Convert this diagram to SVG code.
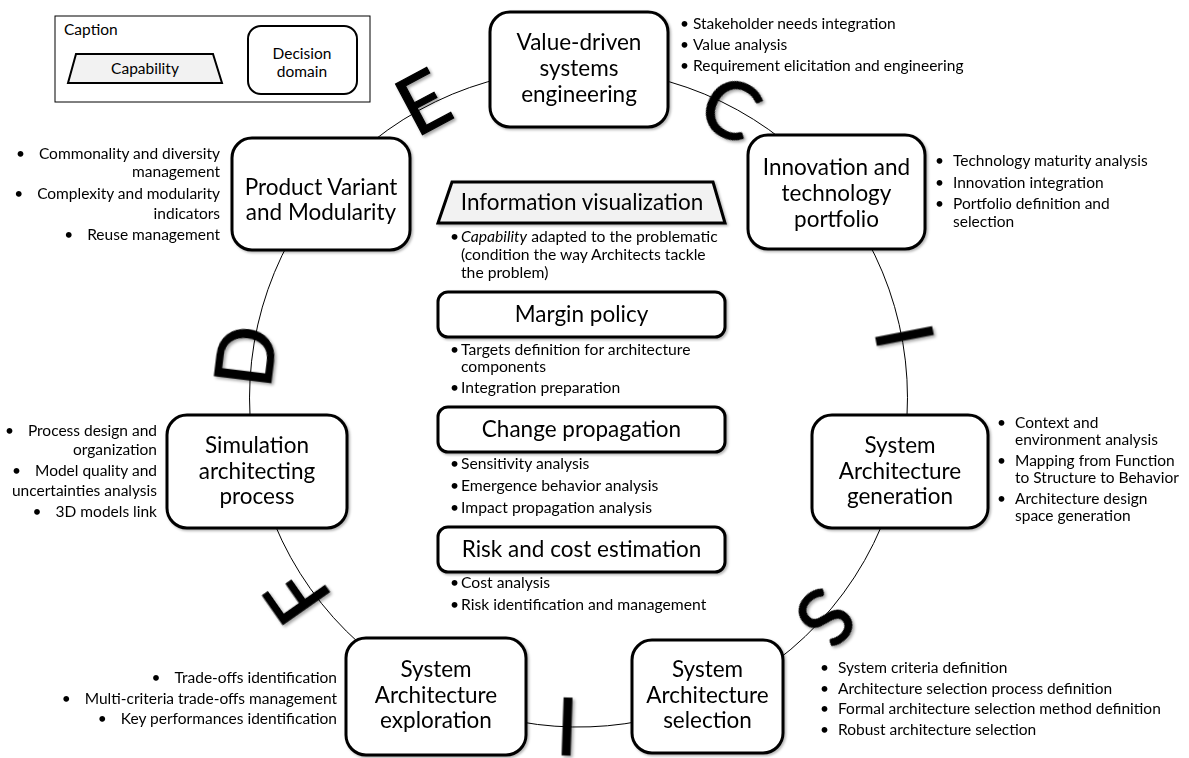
<svg xmlns="http://www.w3.org/2000/svg" width="1189" height="758" viewBox="0 0 1189 758">
<defs>
<filter id="sh" x="-30%" y="-30%" width="160%" height="160%"><feDropShadow dx="2" dy="2" stdDeviation="1.5" flood-color="#000" flood-opacity="0.35"/></filter>
<filter id="bsh" x="-10%" y="-10%" width="120%" height="120%"><feDropShadow dx="1.5" dy="1.5" stdDeviation="1.2" flood-color="#000" flood-opacity="0.3"/></filter>
</defs>
<style>
text{font-family:Lato,"Liberation Sans",sans-serif;fill:#000}
.node rect{fill:#fff;stroke:#000;stroke-width:3}
.cap{fill:#f2f2f2;stroke:#000;stroke-width:3}
.nt{font-size:22.5px;text-anchor:middle}
.ct{font-size:22.5px;text-anchor:middle}
.bt{font-size:15.5px}
.cb{font-size:15.7px}
.end{text-anchor:end}
.big{font-size:80px;font-weight:400;text-anchor:middle;stroke:#000;stroke-width:1.2}
.ring{fill:none;stroke:#000;stroke-width:1}
</style>
<rect width="1189" height="758" fill="#fff"/>

<g id="connectors" class="ring">
<path d="M578.5,69 A329,329 0 0 1 835.6,192.7"/>
<path d="M835.6,192.7 A329,329 0 0 1 899.3,470.9"/>
<path d="M899.3,470.9 A329,329 0 0 1 709.1,700"/>
<path d="M709.1,700 A329,329 0 0 1 436.9,695"/>
<path d="M436.9,695 A329,329 0 0 1 257.7,470.9"/>
<path d="M257.7,470.9 A329,329 0 0 1 320.9,193.4"/>
<path d="M320.9,193.4 A329,329 0 0 1 578.5,69"/>
</g>

<g id="letters" filter="url(#sh)">
<g transform="translate(423,102) rotate(-28)"><text class="big" y="28.5">E</text></g>
<g transform="translate(731,108) rotate(28)"><text class="big" y="28.5">C</text></g>
<g transform="translate(905,336) rotate(79)"><text class="big" y="28.5">I</text></g>
<g transform="translate(826,618) rotate(131.6)"><text class="big" y="28.5">S</text></g>
<g transform="translate(567,727) rotate(182)"><text class="big" y="28.5">I</text></g>
<g transform="translate(297,596) rotate(-125)"><text class="big" y="28.5">F</text></g>
<g transform="translate(245,356) rotate(-83)"><text class="big" y="28.5">D</text></g>
</g>

<g id="caption">
<rect x="55" y="16" width="315" height="86" fill="#fff" stroke="#000" stroke-width="1"/>
<text x="64" y="35" style="font-size:15.5px">Caption</text>
<polygon class="cap" style="stroke-width:2" points="76,54 213,54 222,83 68,83"/>
<text x="145" y="74" style="font-size:15.5px;text-anchor:middle">Capability</text>
<rect x="248" y="26" width="109" height="68" rx="13" fill="#fff" stroke="#000" stroke-width="2"/>
<text x="302" y="59" style="font-size:15.5px;text-anchor:middle">Decision</text>
<text x="302" y="77" style="font-size:15.5px;text-anchor:middle">domain</text>
</g>

<g id="value-driven" class="node">
<rect x="490" y="12" width="178" height="115" rx="20" filter="url(#bsh)"/>
<text class="nt" x="579" y="50">Value-driven</text>
<text class="nt" x="579" y="76">systems</text>
<text class="nt" x="579" y="102">engineering</text>
<g class="bt"><text x="680" y="29">•</text><text x="693" y="29">Stakeholder needs integration</text>
<text x="680" y="50">•</text><text x="693" y="50">Value analysis</text>
<text x="680" y="71">•</text><text x="693" y="71">Requirement elicitation and engineering</text></g>
</g>

<g id="innovation" class="node">
<rect x="748" y="135" width="177" height="114" rx="20" filter="url(#bsh)"/>
<text class="nt" x="836.5" y="175">Innovation and</text>
<text class="nt" x="836.5" y="201">technology</text>
<text class="nt" x="836.5" y="227">portfolio</text>
<g class="bt"><text x="935" y="166">•</text><text x="953" y="166">Technology maturity analysis</text>
<text x="935" y="188">•</text><text x="953" y="188">Innovation integration</text>
<text x="935" y="209">•</text><text x="953" y="209">Portfolio definition and</text>
<text x="953" y="227">selection</text></g>
</g>

<g id="generation" class="node">
<rect x="812" y="415" width="176" height="113" rx="20" filter="url(#bsh)"/>
<text class="nt" x="900" y="453">System</text>
<text class="nt" x="900" y="479">Architecture</text>
<text class="nt" x="900" y="504">generation</text>
<g class="bt"><text x="997" y="428">•</text><text x="1015" y="428">Context and</text>
<text x="1015" y="445">environment analysis</text>
<text x="997" y="466">•</text><text x="1015" y="466">Mapping from Function</text>
<text x="1015" y="483">to Structure to Behavior</text>
<text x="997" y="504">•</text><text x="1015" y="504">Architecture design</text>
<text x="1015" y="521">space generation</text></g>
</g>

<g id="selection" class="node">
<rect x="632" y="640" width="151" height="113" rx="20" filter="url(#bsh)"/>
<text class="nt" x="707.5" y="677">System</text>
<text class="nt" x="707.5" y="703">Architecture</text>
<text class="nt" x="707.5" y="728">selection</text>
<g class="bt"><text x="820" y="673">•</text><text x="838" y="673">System criteria definition</text>
<text x="820" y="694">•</text><text x="838" y="694">Architecture selection process definition</text>
<text x="820" y="714">•</text><text x="838" y="714">Formal architecture selection method definition</text>
<text x="820" y="735">•</text><text x="838" y="735">Robust architecture selection</text></g>
</g>

<g id="exploration" class="node">
<rect x="346" y="638" width="180" height="117" rx="20" filter="url(#bsh)"/>
<text class="nt" x="436" y="677">System</text>
<text class="nt" x="436" y="703">Architecture</text>
<text class="nt" x="436" y="728">exploration</text>
<g class="bt end"><text x="337" y="683">•<tspan dx="14">Trade-offs identification</tspan></text>
<text x="337" y="704">•<tspan dx="14">Multi-criteria trade-offs management</tspan></text>
<text x="337" y="724">•<tspan dx="14">Key performances identification</tspan></text></g>
</g>

<g id="simulation" class="node">
<rect x="167" y="415" width="180" height="113" rx="20" filter="url(#bsh)"/>
<text class="nt" x="257" y="453">Simulation</text>
<text class="nt" x="257" y="479">architecting</text>
<text class="nt" x="257" y="504">process</text>
<g class="bt end"><text x="157" y="436">•<tspan dx="14">Process design and</tspan></text>
<text x="157" y="455">organization</text>
<text x="157" y="476">•<tspan dx="14">Model quality and</tspan></text>
<text x="157" y="496">uncertainties analysis</text>
<text x="157" y="517">•<tspan dx="14">3D models link</tspan></text></g>
</g>

<g id="product-variant" class="node">
<rect x="232" y="138" width="178" height="112" rx="20" filter="url(#bsh)"/>
<text class="nt" x="321" y="195">Product Variant</text>
<text class="nt" x="321" y="220">and Modularity</text>
<g class="bt end"><text x="220" y="159">•<tspan dx="14">Commonality and diversity</tspan></text>
<text x="220" y="177">management</text>
<text x="220" y="199">•<tspan dx="14">Complexity and modularity</tspan></text>
<text x="220" y="219">indicators</text>
<text x="220" y="240">•<tspan dx="14">Reuse management</tspan></text></g>
</g>

<g id="information-visualization">
<polygon class="cap" points="452,182 713,182 725,223 438,223" filter="url(#bsh)"/>
<text class="ct" x="582" y="210">Information visualization</text>
<g class="cb"><text x="450" y="242">•</text><text x="461" y="242"><tspan font-style="italic">Capability</tspan> adapted to the problematic</text>
<text x="461" y="260">(condition the way Architects tackle</text>
<text x="461" y="278">the problem)</text></g>
</g>

<g id="margin-policy" class="node">
<rect x="438" y="292" width="287" height="45" rx="10" filter="url(#bsh)"/>
<text class="ct" x="581.5" y="322">Margin policy</text>
<g class="cb"><text x="450" y="355">•</text><text x="461" y="355">Targets definition for architecture</text>
<text x="461" y="372">components</text>
<text x="450" y="393">•</text><text x="461" y="393">Integration preparation</text></g>
</g>

<g id="change-propagation" class="node">
<rect x="438" y="407" width="287" height="45" rx="10" filter="url(#bsh)"/>
<text class="ct" x="581.5" y="437">Change propagation</text>
<g class="cb"><text x="450" y="469">•</text><text x="461" y="469">Sensitivity analysis</text>
<text x="450" y="491">•</text><text x="461" y="491">Emergence behavior analysis</text>
<text x="450" y="513">•</text><text x="461" y="513">Impact propagation analysis</text></g>
</g>

<g id="risk-cost" class="node">
<rect x="438" y="527" width="287" height="45" rx="10" filter="url(#bsh)"/>
<text class="ct" x="581.5" y="557">Risk and cost estimation</text>
<g class="cb"><text x="450" y="588">•</text><text x="461" y="588">Cost analysis</text>
<text x="450" y="610">•</text><text x="461" y="610">Risk identification and management</text></g>
</g>
</svg>
